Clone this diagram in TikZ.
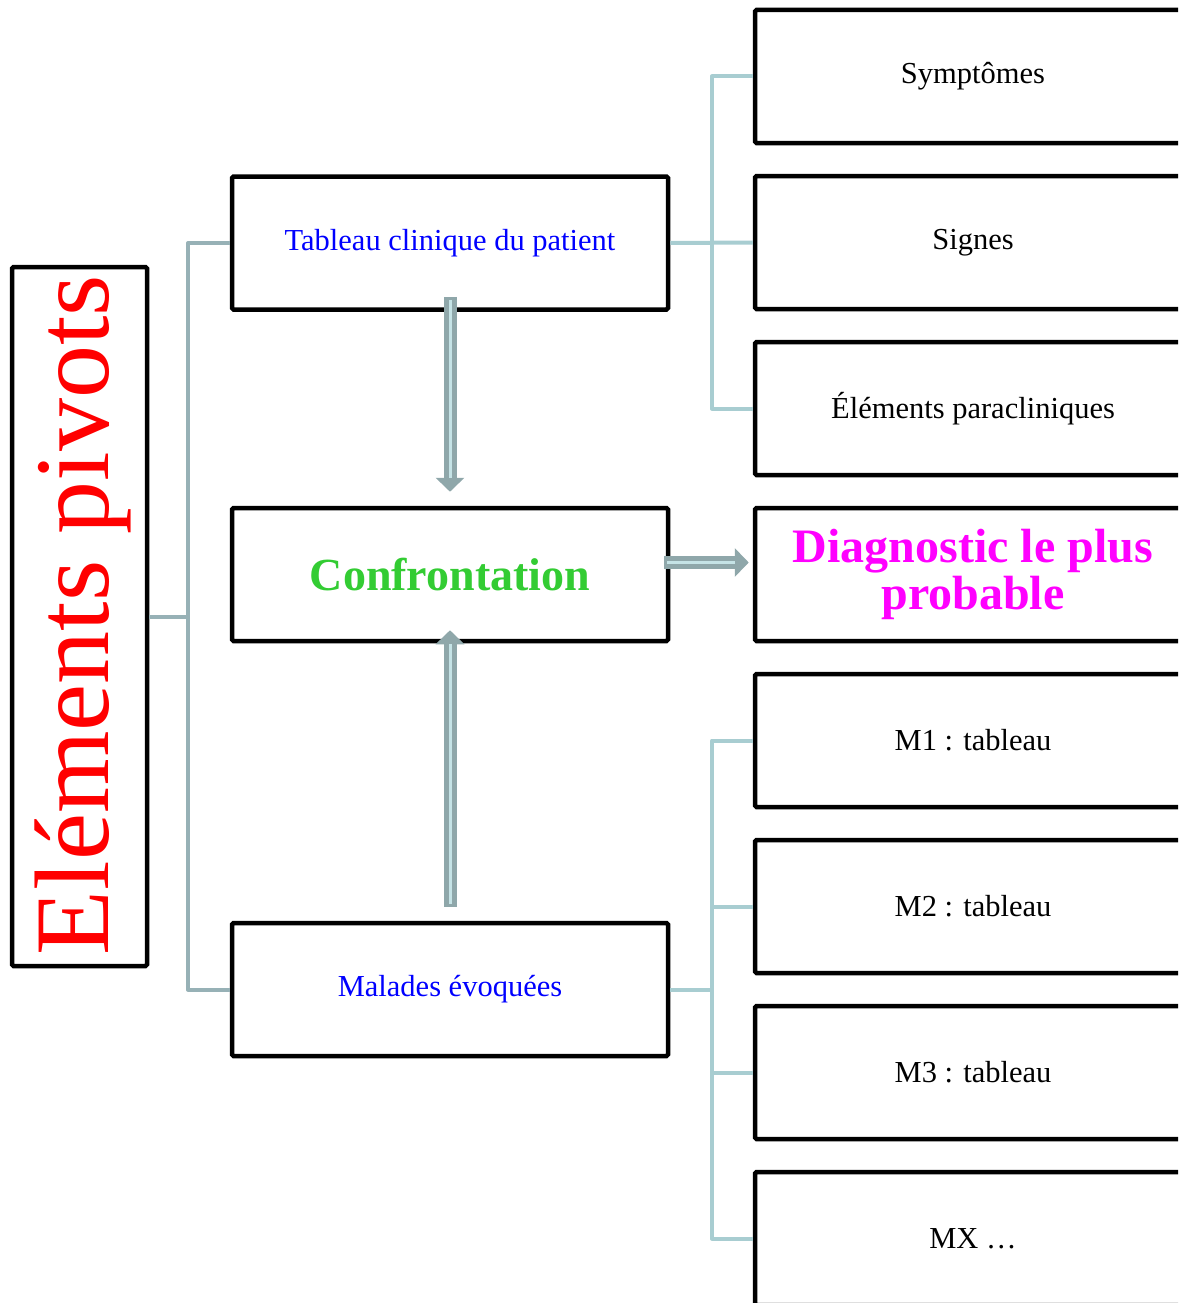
\documentclass[tikz,border=0pt]{standalone}
\usepackage{fontspec}
\setmainfont{Liberation Serif}
\usetikzlibrary{arrows.meta,calc}
\definecolor{lconncol}{HTML}{97B1B6}
\definecolor{rconncol}{HTML}{A8CDD1}
\definecolor{arrout}{HTML}{8FA7AA}
\definecolor{arrin}{HTML}{C5E3E6}
\definecolor{txtgreen}{HTML}{33CC33}
\definecolor{txtmag}{HTML}{FF00FF}
\definecolor{txtblue}{HTML}{0000FF}
\definecolor{txtred}{HTML}{FF0000}
\begin{document}
\begin{tikzpicture}[x=1pt,y=-1pt,
  box/.style={draw=black,line width=4.5pt,rounded corners=1.5pt,minimum width=436pt,minimum height=133pt,inner sep=0pt,align=center},
  normtxt/.style={font=\fontsize{30.5}{36}\selectfont},
  lconn/.style={draw=lconncol,line width=4pt},
  rconn/.style={draw=rconncol,line width=4pt},
  arrowouter/.style={draw=arrout,line width=13pt,-{Triangle[width=28pt,length=14pt]}},
  arrowinner/.style={draw=arrin,line width=3pt}]
\useasboundingbox (0,0) rectangle (1178,1303);
\clip (0,0) rectangle (1178,1303);
% left box
\node[draw=black,line width=4.5pt,rounded corners=1.5pt,minimum width=135pt,minimum height=699pt,inner sep=0pt] (left) at (79.5,616.5) {};
\node[rotate=90,anchor=base,text=txtred,font=\fontsize{106}{110}\selectfont,inner sep=0pt] (lefttxt) at (108,615) {Eléments pivots};
% middle boxes
\node[box,normtxt,text=txtblue] (tab) at (450,243) {Tableau clinique du patient};
\node[box,text=txtgreen,font=\fontsize{46}{50}\selectfont\bfseries] (conf) at (450,574.5) {Confrontation};
\node[box,normtxt,text=txtblue] (mal) at (450,989.5) {Malades évoquées};
% right boxes
\node[box,normtxt] (s1) at (973,76.5) {Symptômes};
\node[box,normtxt] (s2) at (973,242.5) {Signes};
\node[box,normtxt] (s3) at (973,408.5) {Éléments paracliniques};
\node[box,text=txtmag,font=\fontsize{48}{47}\selectfont\bfseries] (diag) at (973,574.5) {Diagnostic le plus\\probable};
\node[box,normtxt] (m1) at (973,740.5) {M1 : tableau};
\node[box,normtxt] (m2) at (973,906.5) {M2 : tableau};
\node[box,normtxt] (m3) at (973,1072.5) {M3 : tableau};
\node[box,normtxt] (mx) at (973,1238.5) {MX \dots};
% left connectors
\coordinate (lbus) at (188,0);
\draw[lconn] (left.east) -- (left.east -| lbus);
\draw[lconn,line join=round] (tab.west) -- (tab.west -| lbus) -- (mal.west -| lbus) -- (mal.west);
% right top connectors
\coordinate (rbus) at (712,0);
\draw[rconn] (tab.east) -- (s2.west);
\draw[rconn,line join=round] (s1.west) -- (s1.west -| rbus) -- (s3.west -| rbus) -- (s3.west);
% right bottom connectors
\draw[rconn] (mal.east) -- (mal.east -| rbus);
\draw[rconn,line join=round] (m1.west) -- (m1.west -| rbus) -- (mx.west -| rbus) -- (mx.west);
\draw[rconn] (m2.west) -- (m2.west -| rbus);
\draw[rconn] (m3.west) -- (m3.west -| rbus);
% big arrows
\coordinate (d1) at ($(tab.south)+(0,-15)$);
\coordinate (d2) at ($(conf.north)+(0,-14)$);
\draw[arrowouter] (d1) -- (d2);
\draw[arrowinner] ($(d1)+(0,3)$) -- ($(d2)+(0,-14)$);
\coordinate (u1) at ($(mal.north)+(0,-14)$);
\coordinate (u2) at ($(conf.south)+(0,-13)$);
\draw[arrowouter] (u1) -- (u2);
\draw[arrowinner] ($(u1)+(0,-3)$) -- ($(u2)+(0,14)$);
\coordinate (r1) at ($(conf.east)+(-6,-12)$);
\coordinate (r2) at ($(diag.west)+(-4,-12)$);
\draw[arrowouter] (r1) -- (r2);
\draw[arrowinner] ($(r1)+(3,0)$) -- ($(r2)+(-14,0)$);
\end{tikzpicture}
\end{document}
